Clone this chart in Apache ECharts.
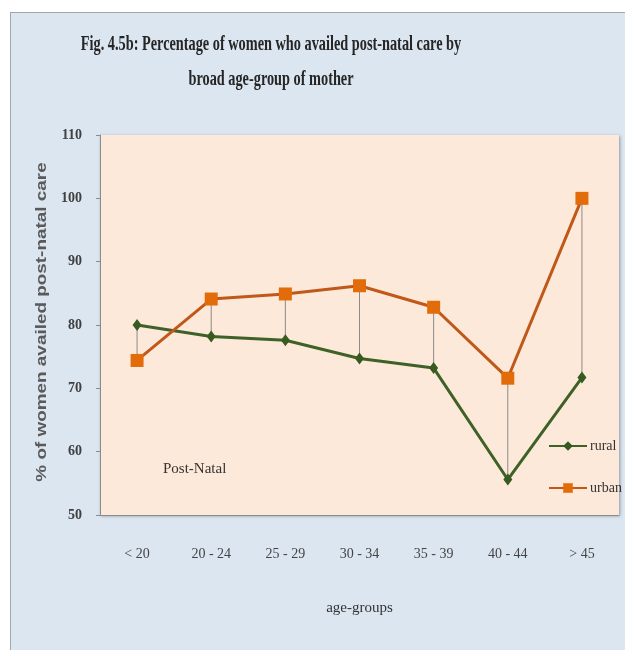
<!DOCTYPE html>
<html>
<head>
<meta charset="utf-8">
<script src="https://cdn.jsdelivr.net/npm/echarts@6/dist/echarts.min.js"></script>
<style>
  html, body { margin: 0; padding: 0; background: #fff; }
  .frame {
    position: absolute; left: 10px; top: 12px; width: 620px; height: 645px;
    background: #dce6f1; border-left: 1px solid #a6a6a6; border-top: 1px solid #a6a6a6;
  }
  #chart { position: absolute; left: 0; top: 0; width: 625px; height: 650px; }
</style>
</head>
<body>
<div class="frame"></div>
<div id="chart"></div>
<script>
const ageGroups = ['< 20', '20 - 24', '25 - 29', '30 - 34', '35 - 39', '40 - 44', '> 45'];
const rural = [80.0, 78.2, 77.6, 74.7, 73.2, 55.6, 71.7];
const urban = [74.4, 84.1, 84.9, 86.2, 82.8, 71.6, 100.0];
const yTicks = { min: 50, max: 110, interval: 10 };

const serif = '"Liberation Serif", "DejaVu Serif", serif';

// hi-lo connector data built from the two series
const hiLo = ageGroups.map((_, i) => [i, rural[i], urban[i]]);

const chart = echarts.init(document.getElementById('chart'));

chart.setOption({
  backgroundColor: 'transparent',
  animation: false,
  graphic: [
    {
      type: 'text', x: 271, y: 33, scaleX: 0.65,
      style: {
        text: 'Fig. 4.5b: Percentage of women who availed post-natal care by',
        font: 'bold 22px ' + serif, fill: '#262626', align: 'center', verticalAlign: 'top'
      }
    },
    {
      type: 'text', x: 271, y: 68, scaleX: 0.65,
      style: {
        text: 'broad age-group of mother',
        font: 'bold 22px ' + serif, fill: '#262626', align: 'center', verticalAlign: 'top'
      }
    },
    {
      // y-axis title, stretched along its length like the original
      type: 'text', x: 42, y: 322, rotation: Math.PI / 2, scaleX: 1.35,
      style: {
        text: '% of women availed post-natal care',
        font: 'bold 14px "Liberation Sans", Arial, sans-serif', fill: '#5a5a5a',
        align: 'center', verticalAlign: 'middle'
      }
    },
    {
      type: 'text', x: 163, y: 462, z: 10,
      style: { text: 'Post-Natal', font: '15px ' + serif, fill: '#333' }
    }
  ],
  grid: {
    left: 100, right: 6, top: 135, bottom: 135,
    show: true, backgroundColor: '#fde9d9', borderWidth: 0,
    shadowColor: 'rgba(0,0,0,0.35)', shadowBlur: 3, shadowOffsetX: 1, shadowOffsetY: 1
  },
  legend: {
    data: ['rural', 'urban'],
    orient: 'vertical',
    left: 543, top: 434,
    itemGap: 28, itemWidth: 38, itemHeight: 12,
    textStyle: { fontFamily: serif, fontSize: 14, color: '#333', padding: [0, 0, 0, -2] }
  },
  xAxis: {
    type: 'category',
    data: ageGroups,
    boundaryGap: true,
    name: 'age-groups',
    nameLocation: 'middle',
    nameGap: 86,
    nameTextStyle: { fontFamily: serif, fontSize: 15, color: '#333' },
    axisLine: { lineStyle: { color: '#8c8c8c' } },
    axisTick: { show: false },
    axisLabel: { margin: 32, fontFamily: serif, fontSize: 14, color: '#444' }
  },
  yAxis: {
    type: 'value',
    min: yTicks.min, max: yTicks.max, interval: yTicks.interval,
    axisLine: { show: true, lineStyle: { color: '#8c8c8c' } },
    axisTick: { show: true, length: 4, lineStyle: { color: '#8c8c8c' } },
    axisLabel: { margin: 18, fontFamily: serif, fontWeight: 'bold', fontSize: 14, color: '#404040' },
    splitLine: { show: false }
  },
  series: [
    {
      name: 'hilo',
      type: 'custom',
      data: hiLo,
      z: 1,
      renderItem: (params, api) => {
        const a = api.coord([api.value(0), api.value(1)]);
        const b = api.coord([api.value(0), api.value(2)]);
        return {
          type: 'line',
          shape: { x1: a[0], y1: a[1], x2: b[0], y2: b[1] },
          style: { stroke: '#8a8a8a', lineWidth: 1 }
        };
      }
    },
    {
      name: 'rural',
      type: 'line',
      data: rural,
      z: 3,
      symbol: 'diamond',
      symbolSize: [9, 12],
      lineStyle: { color: '#3d6127', width: 3 },
      itemStyle: { color: '#375a21' }
    },
    {
      name: 'urban',
      type: 'line',
      data: urban,
      z: 4,
      symbol: 'rect',
      symbolSize: 13,
      lineStyle: { color: '#bf5819', width: 3 },
      itemStyle: { color: '#e36c0a' }
    }
  ]
});
</script>
</body>
</html>
